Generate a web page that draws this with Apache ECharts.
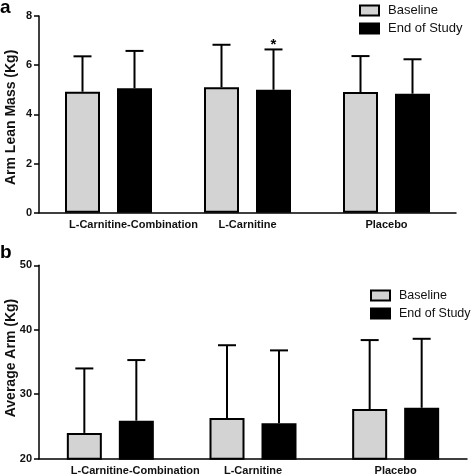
<!DOCTYPE html>
<html>
<head>
<meta charset="utf-8">
<script src="https://cdn.jsdelivr.net/npm/echarts@6/dist/echarts.min.js"></script>
<style>html,body{margin:0;padding:0;background:#fff}#c{width:472px;height:475px}</style>
</head>
<body>
<div id="c"></div>
<script>
var categories = ['L-Carnitine-Combination', 'L-Carnitine', 'Placebo'];
var seriesNames = ['Baseline', 'End of Study'];
// Panel a: Arm Lean Mass (Kg)
var leanBaseline = [4.92, 5.10, 4.91];
var leanBaselineSD = [1.44, 1.73, 1.46];
var leanEnd = [5.06, 5.00, 4.84];
var leanEndSD = [1.52, 1.64, 1.40];
var leanEndMarks = ['', '*', ''];
// Panel b: Average Arm (Kg)
var armBaseline = [24.0, 26.3, 27.7];
var armBaselineSD = [10.0, 11.3, 10.7];
var armEnd = [25.9, 25.5, 27.9];
var armEndSD = [9.4, 11.3, 10.7];
var armEndMarks = ['', '', ''];
var yTicksA = {min: 0, max: 8, interval: 2};
var yTicksB = {min: 20, max: 50, interval: 10};

var FONT = 'Liberation Sans, Arial, sans-serif';
var GRAY = '#d3d3d3';
var BAR_W = 35, OFFSET = 26;

function errSeries(name, axisIdx, means, sds, side, marks) {
  return {
    type: 'custom', name: name + ' err', xAxisIndex: axisIdx, yAxisIndex: axisIdx,
    z: 5, silent: true,
    data: means.map(function (m, i) { return [i, m, m + sds[i], marks[i]]; }),
    encode: {x: 0, y: [1, 2]},
    renderItem: function (params, api) {
      var i = api.value(0);
      var p0 = api.coord([i, api.value(1)]);
      var p1 = api.coord([i, api.value(2)]);
      var x = p0[0] + side * OFFSET;
      var kids = [
        {type: 'line', shape: {x1: x, y1: p0[1], x2: x, y2: p1[1]}, style: {stroke: '#000', lineWidth: 2}},
        {type: 'line', shape: {x1: x - 9, y1: p1[1], x2: x + 9, y2: p1[1]}, style: {stroke: '#000', lineWidth: 2}}
      ];
      var mk = marks[i];
      if (mk) {
        kids.push({type: 'text', style: {text: mk, x: x, y: p1[1] + 3, align: 'center', verticalAlign: 'bottom',
          font: 'bold 15px ' + FONT, fill: '#000'}});
      }
      return {type: 'group', children: kids};
    }
  };
}

function barSeries(name, axisIdx, data, color) {
  return {
    type: 'bar', name: name, xAxisIndex: axisIdx, yAxisIndex: axisIdx,
    data: data, barWidth: BAR_W, barGap: ((2 * OFFSET - BAR_W) / BAR_W * 100) + '%',
    itemStyle: {color: color, borderColor: '#000', borderWidth: 2},
    z: 2
  };
}

function xAxisCfg(gridIdx) {
  return {
    type: 'category', gridIndex: gridIdx, data: categories,
    axisLine: {lineStyle: {color: '#000', width: 1.5}},
    axisTick: {alignWithLabel: true, length: 4, lineStyle: {color: '#000', width: 1.5}},
    axisLabel: {
      color: '#111', fontFamily: FONT, fontWeight: 'bold', fontSize: 11, margin: 7, interval: 0,
      formatter: function (v, i) { return i === 0 ? '{f|' + v + '}' : v; },
      rich: {f: {padding: [0, 0, 0, 50], fontFamily: FONT, fontWeight: 'bold', fontSize: 11, color: '#111'}}
    }
  };
}

function yAxisCfg(gridIdx, ticks, name, gap, pad) {
  return {
    type: 'value', gridIndex: gridIdx, min: ticks.min, max: ticks.max, interval: ticks.interval,
    name: name, nameLocation: 'middle', nameGap: gap, nameMoveOverlap: false,
    nameTextStyle: {fontFamily: FONT, fontWeight: 'bold', fontSize: 14, color: '#111', padding: pad},
    axisLine: {show: true, lineStyle: {color: '#000', width: 1.5}},
    axisTick: {show: true, length: 5, lineStyle: {color: '#000', width: 1.5}},
    splitLine: {show: false},
    axisLabel: {color: '#111', fontFamily: FONT, fontWeight: 'bold', fontSize: 11, margin: 7}
  };
}

function legendCfg(left, top, fs) {
  return {
    orient: 'vertical', left: left, top: top, padding: 0, itemWidth: 19, itemHeight: 10, itemGap: 5,
    icon: 'rect', data: seriesNames, selectedMode: false,
    textStyle: {fontFamily: FONT, fontSize: fs, color: '#111', padding: [0, 0, 0, 4]}
  };
}

var chart = echarts.init(document.getElementById('c'), null, {renderer: 'canvas'});
chart.setOption({
  animation: false,
  backgroundColor: '#fff',
  grid: [
    {left: 39, right: 16, top: 16, height: 196.7, containLabel: false, outerBoundsMode: 'none'},
    {left: 39, right: 5, top: 265.3, height: 193.4, containLabel: false, outerBoundsMode: 'none'}
  ],
  xAxis: [xAxisCfg(0), xAxisCfg(1)],
  yAxis: [
    yAxisCfg(0, yTicksA, 'Arm Lean Mass (Kg)', 21, [0, 6, 0, 0]),
    yAxisCfg(1, yTicksB, 'Average Arm (Kg)', 21, [0, 0, 0, 8])
  ],
  legend: [legendCfg(359, 4, 13), legendCfg(370, 289, 12.5)],
  graphic: [
    {type: 'text', left: 0, top: -2, style: {text: 'a', font: 'bold 19px ' + FONT, fill: '#000'}},
    {type: 'text', left: 0, top: 243, style: {text: 'b', font: 'bold 19px ' + FONT, fill: '#000'}}
  ],
  series: [
    barSeries(seriesNames[0], 0, leanBaseline, GRAY),
    barSeries(seriesNames[1], 0, leanEnd, '#000'),
    errSeries(seriesNames[0], 0, leanBaseline, leanBaselineSD, -1, ['', '', '']),
    errSeries(seriesNames[1], 0, leanEnd, leanEndSD, 1, leanEndMarks),
    barSeries(seriesNames[0], 1, armBaseline, GRAY),
    barSeries(seriesNames[1], 1, armEnd, '#000'),
    errSeries(seriesNames[0], 1, armBaseline, armBaselineSD, -1, ['', '', '']),
    errSeries(seriesNames[1], 1, armEnd, armEndSD, 1, armEndMarks)
  ]
});
</script>
</body>
</html>
